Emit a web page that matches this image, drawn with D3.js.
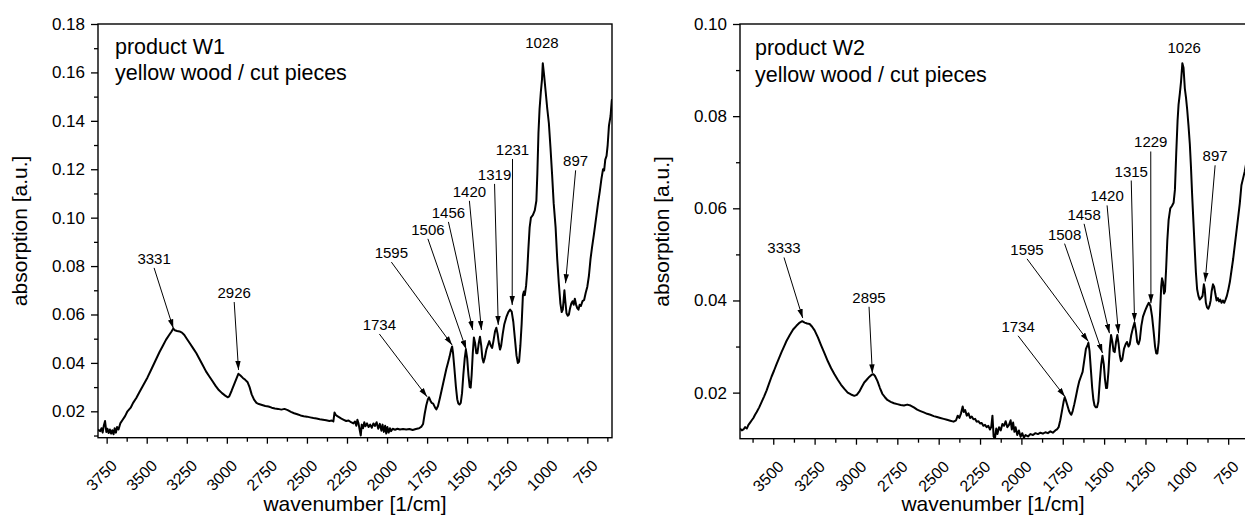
<!DOCTYPE html>
<html>
<head>
<meta charset="utf-8">
<script src="https://cdn.jsdelivr.net/npm/d3@7/dist/d3.min.js"></script>
<style>
  body { margin: 0; background: #fff; }
  svg text { font-family: Arial, 'Liberation Sans', sans-serif; fill: #000; }
</style>
</head>
<body>
<script>
// spectrum W1 : [wavenumber, absorption]
var w1Spectrum = [
  [3804,0.0125],[3796,0.0120],[3790,0.0118],[3782,0.0130],[3775,0.0112],[3768,0.0140],[3760,0.0160],[3752,0.0115],
  [3745,0.0128],[3738,0.0110],[3730,0.0125],[3722,0.0108],[3715,0.0122],[3707,0.0105],[3700,0.0130],[3692,0.0112],
  [3685,0.0135],[3676,0.0125],[3665,0.0150],[3650,0.0165],[3635,0.0180],[3620,0.0200],[3600,0.0215],[3585,0.0235],
  [3565,0.0255],[3545,0.0280],[3520,0.0310],[3495,0.0340],[3470,0.0375],[3445,0.0410],[3420,0.0445],[3400,0.0470],
  [3380,0.0495],[3360,0.0515],[3345,0.0530],[3334,0.0542],[3325,0.0535],[3310,0.0532],[3295,0.0530],[3280,0.0525],
  [3265,0.0515],[3250,0.0500],[3230,0.0480],[3210,0.0460],[3190,0.0440],[3170,0.0415],[3150,0.0390],[3130,0.0365],
  [3110,0.0345],[3090,0.0325],[3070,0.0305],[3050,0.0288],[3030,0.0275],[3010,0.0265],[2995,0.0258],[2985,0.0262],
  [2970,0.0285],[2955,0.0310],[2940,0.0335],[2928,0.0355],[2915,0.0348],[2900,0.0338],[2885,0.0330],[2870,0.0320],
  [2858,0.0300],[2845,0.0270],[2830,0.0248],[2815,0.0235],[2800,0.0230],[2780,0.0226],[2760,0.0222],[2740,0.0220],
  [2720,0.0215],[2700,0.0212],[2680,0.0210],[2660,0.0207],[2640,0.0210],[2620,0.0205],[2600,0.0198],[2580,0.0192],
  [2560,0.0188],[2540,0.0183],[2520,0.0180],[2500,0.0178],[2480,0.0175],[2460,0.0172],[2440,0.0170],[2420,0.0167],
  [2400,0.0165],[2380,0.0163],[2360,0.0160],[2345,0.0162],[2335,0.0158],[2328,0.0195],[2320,0.0185],[2310,0.0180],
  [2300,0.0176],[2285,0.0170],[2270,0.0165],[2255,0.0160],[2240,0.0162],[2225,0.0155],[2210,0.0150],[2200,0.0158],
  [2192,0.0140],[2185,0.0165],[2178,0.0150],[2170,0.0120],[2164,0.0100],[2158,0.0145],[2150,0.0130],[2142,0.0155],
  [2135,0.0138],[2125,0.0150],[2115,0.0135],[2105,0.0145],[2095,0.0132],[2085,0.0150],[2075,0.0140],[2065,0.0155],
  [2055,0.0128],[2045,0.0148],[2035,0.0120],[2028,0.0145],[2020,0.0115],[2012,0.0140],[2005,0.0108],[1998,0.0135],
  [1990,0.0112],[1982,0.0130],[1975,0.0118],[1965,0.0128],[1950,0.0124],[1935,0.0128],[1920,0.0125],[1900,0.0127],
  [1880,0.0125],[1860,0.0127],[1840,0.0123],[1820,0.0127],[1800,0.0130],[1785,0.0137],[1775,0.0148],[1765,0.0190],
  [1755,0.0225],[1745,0.0250],[1738,0.0258],[1730,0.0245],[1722,0.0235],[1712,0.0232],[1700,0.0215],[1692,0.0208],
  [1682,0.0222],[1670,0.0255],[1660,0.0285],[1650,0.0315],[1640,0.0345],[1630,0.0375],[1620,0.0400],[1610,0.0425],
  [1600,0.0455],[1594,0.0468],[1588,0.0440],[1580,0.0380],[1570,0.0300],[1562,0.0250],[1555,0.0232],[1548,0.0228],
  [1540,0.0235],[1532,0.0275],[1524,0.0350],[1515,0.0420],[1508,0.0455],[1500,0.0420],[1492,0.0350],[1484,0.0300],
  [1478,0.0298],[1472,0.0350],[1465,0.0440],[1458,0.0505],[1450,0.0480],[1443,0.0440],[1436,0.0440],[1428,0.0480],
  [1420,0.0508],[1412,0.0470],[1405,0.0420],[1398,0.0402],[1390,0.0420],[1380,0.0455],[1370,0.0475],[1362,0.0490],
  [1352,0.0470],[1344,0.0462],[1336,0.0490],[1326,0.0530],[1318,0.0545],[1310,0.0520],[1302,0.0480],[1295,0.0455],
  [1288,0.0470],[1278,0.0520],[1268,0.0560],[1255,0.0590],[1243,0.0610],[1232,0.0620],[1222,0.0612],[1212,0.0570],
  [1202,0.0500],[1192,0.0430],[1184,0.0400],[1176,0.0405],[1168,0.0470],[1160,0.0560],[1152,0.0680],[1146,0.0695],
  [1140,0.0680],[1132,0.0720],[1125,0.0780],[1118,0.0870],[1110,0.0960],[1102,0.1000],[1090,0.1010],[1078,0.1030],
  [1068,0.1070],[1062,0.1180],[1055,0.1350],[1048,0.1450],[1040,0.1520],[1033,0.1570],[1028,0.1638],[1020,0.1590],
  [1010,0.1520],[1000,0.1450],[990,0.1390],[980,0.1290],[970,0.1180],[960,0.1060],[948,0.0960],[938,0.0830],
  [928,0.0730],[918,0.0645],[910,0.0610],[903,0.0620],[898,0.0660],[893,0.0700],[888,0.0660],[880,0.0605],
  [872,0.0595],[865,0.0600],[858,0.0625],[850,0.0645],[842,0.0655],[835,0.0640],[828,0.0665],[820,0.0640],
  [812,0.0625],[805,0.0620],[798,0.0640],[790,0.0635],[780,0.0655],[770,0.0660],[760,0.0690],[750,0.0715],
  [740,0.0760],[730,0.0830],[720,0.0880],[708,0.0935],[695,0.1000],[683,0.1060],[672,0.1110],[662,0.1160],
  [652,0.1200],[645,0.1195],[638,0.1240],[630,0.1255],[623,0.1300],[615,0.1380],[605,0.1420],[598,0.1480],[596,0.1490]
];

// spectrum W2 : [wavenumber, absorption]
var w2Spectrum = [
  [3701,0.0122],[3690,0.0118],[3680,0.0120],[3670,0.0125],[3660,0.0122],[3650,0.0130],[3640,0.0135],[3630,0.0140],
  [3620,0.0145],[3610,0.0152],[3600,0.0158],[3585,0.0168],[3570,0.0180],[3555,0.0192],[3540,0.0205],[3525,0.0220],
  [3510,0.0235],[3495,0.0248],[3480,0.0262],[3465,0.0275],[3450,0.0288],[3435,0.0300],[3420,0.0312],[3400,0.0325],
  [3380,0.0337],[3360,0.0345],[3340,0.0352],[3325,0.0355],[3310,0.0352],[3295,0.0350],[3280,0.0349],[3265,0.0343],
  [3250,0.0335],[3230,0.0320],[3210,0.0302],[3190,0.0285],[3170,0.0268],[3150,0.0253],[3130,0.0240],[3110,0.0228],
  [3090,0.0217],[3070,0.0208],[3050,0.0200],[3030,0.0196],[3010,0.0193],[2995,0.0195],[2980,0.0202],[2965,0.0212],
  [2950,0.0222],[2935,0.0228],[2920,0.0234],[2905,0.0239],[2895,0.0240],[2885,0.0236],[2870,0.0225],[2855,0.0210],
  [2840,0.0197],[2825,0.0190],[2810,0.0184],[2790,0.0180],[2770,0.0177],[2750,0.0175],[2730,0.0173],[2710,0.0172],
  [2690,0.0174],[2670,0.0172],[2650,0.0168],[2630,0.0163],[2610,0.0160],[2590,0.0157],[2570,0.0154],[2550,0.0152],
  [2530,0.0149],[2510,0.0147],[2490,0.0145],[2470,0.0143],[2450,0.0141],[2430,0.0139],[2410,0.0137],[2395,0.0140],
  [2385,0.0150],[2375,0.0145],[2365,0.0155],[2355,0.0170],[2348,0.0158],[2340,0.0162],[2330,0.0150],[2320,0.0155],
  [2310,0.0145],[2300,0.0148],[2290,0.0142],[2280,0.0143],[2270,0.0137],[2260,0.0138],[2250,0.0133],[2240,0.0134],
  [2230,0.0128],[2220,0.0130],[2210,0.0125],[2200,0.0128],[2190,0.0120],[2182,0.0126],[2175,0.0150],[2168,0.0105],
  [2160,0.0100],[2152,0.0122],[2145,0.0110],[2135,0.0125],[2125,0.0118],[2115,0.0132],[2105,0.0128],[2095,0.0138],
  [2085,0.0125],[2075,0.0130],[2065,0.0140],[2058,0.0120],[2050,0.0135],[2042,0.0115],[2035,0.0125],[2025,0.0108],
  [2015,0.0118],[2005,0.0104],[1995,0.0112],[1985,0.0102],[1975,0.0108],[1960,0.0105],[1945,0.0110],[1930,0.0108],
  [1915,0.0112],[1900,0.0110],[1885,0.0113],[1870,0.0111],[1855,0.0114],[1840,0.0112],[1825,0.0116],[1810,0.0113],
  [1795,0.0118],[1785,0.0120],[1775,0.0125],[1765,0.0140],[1755,0.0160],[1745,0.0180],[1738,0.0190],[1730,0.0182],
  [1720,0.0170],[1712,0.0160],[1705,0.0155],[1698,0.0152],[1690,0.0160],[1680,0.0175],[1670,0.0192],[1660,0.0210],
  [1650,0.0225],[1640,0.0235],[1630,0.0245],[1620,0.0270],[1610,0.0295],[1600,0.0303],[1595,0.0308],[1588,0.0290],
  [1580,0.0250],[1572,0.0210],[1565,0.0185],[1558,0.0172],[1550,0.0168],[1543,0.0168],[1535,0.0180],[1527,0.0220],
  [1518,0.0260],[1510,0.0280],[1502,0.0262],[1495,0.0230],[1488,0.0210],[1482,0.0210],[1474,0.0245],[1466,0.0295],
  [1458,0.0325],[1450,0.0310],[1443,0.0290],[1436,0.0288],[1428,0.0310],[1420,0.0325],[1412,0.0305],[1405,0.0280],
  [1398,0.0268],[1390,0.0272],[1380,0.0295],[1370,0.0305],[1362,0.0310],[1352,0.0300],[1345,0.0305],[1336,0.0325],
  [1326,0.0340],[1316,0.0352],[1308,0.0335],[1300,0.0310],[1292,0.0305],[1284,0.0315],[1275,0.0345],[1265,0.0365],
  [1252,0.0378],[1240,0.0388],[1230,0.0395],[1220,0.0388],[1210,0.0365],[1200,0.0330],[1192,0.0300],[1185,0.0285],
  [1178,0.0285],[1170,0.0310],[1162,0.0370],[1155,0.0430],[1150,0.0448],[1144,0.0440],[1138,0.0415],[1132,0.0420],
  [1125,0.0470],[1118,0.0530],[1110,0.0575],[1100,0.0600],[1090,0.0605],[1080,0.0612],[1072,0.0640],[1064,0.0720],
  [1056,0.0790],[1050,0.0825],[1042,0.0850],[1035,0.0875],[1027,0.0915],[1020,0.0905],[1012,0.0860],[1005,0.0840],
  [998,0.0815],[990,0.0780],[982,0.0740],[975,0.0690],[968,0.0630],[960,0.0570],[952,0.0510],[945,0.0460],
  [938,0.0425],[930,0.0410],[922,0.0402],[914,0.0405],[905,0.0410],[897,0.0435],[892,0.0425],[885,0.0395],
  [878,0.0385],[870,0.0382],[862,0.0390],[856,0.0400],[850,0.0420],[842,0.0435],[835,0.0430],[828,0.0415],
  [820,0.0400],[812,0.0405],[805,0.0398],[798,0.0402],[790,0.0395],[782,0.0400],[774,0.0395],[766,0.0402],
  [758,0.0410],[750,0.0422],[740,0.0440],[730,0.0465],[720,0.0490],[710,0.0520],[700,0.0550],[690,0.0580],
  [680,0.0610],[670,0.0650],[660,0.0665],[650,0.0680],[640,0.0700],[630,0.0720],[620,0.0740],[610,0.0760],[600,0.0780]
];

// peak labels: text, where the label sits and where the arrow points (data units)
var w1Peaks = [
  { text: '3331', at: [3454, 0.0809], tip: [3334, 0.0543] },
  { text: '2926', at: [2954, 0.0668], tip: [2927, 0.0371] },
  { text: '1734', at: [2048, 0.0536], tip: [1750, 0.0260] },
  { text: '1595', at: [1973, 0.0833], tip: [1594, 0.0474] },
  { text: '1506', at: [1745, 0.0929], tip: [1506, 0.0456] },
  { text: '1456', at: [1617, 0.0999], tip: [1465, 0.0536] },
  { text: '1420', at: [1486, 0.1086], tip: [1411, 0.0536] },
  { text: '1319', at: [1329, 0.1156], tip: [1306, 0.0557] },
  { text: '1231', at: [1217, 0.1259], tip: [1219, 0.0639] },
  { text: '1028', at: [1033, 0.1701], tip: null },
  { text: '897',  at: [823, 0.1212],  tip: [886, 0.0729] }
];
var w2Peaks = [
  { text: '3333', at: [3435, 0.0502], tip: [3322, 0.0362] },
  { text: '2895', at: [2921, 0.0395], tip: [2901, 0.0242] },
  { text: '1734', at: [2020, 0.0332], tip: [1736, 0.0191] },
  { text: '1595', at: [1966, 0.0499], tip: [1595, 0.0311] },
  { text: '1508', at: [1739, 0.0532], tip: [1510, 0.0286] },
  { text: '1458', at: [1621, 0.0575], tip: [1468, 0.0329] },
  { text: '1420', at: [1482, 0.0615], tip: [1413, 0.0329] },
  { text: '1315', at: [1336, 0.0669], tip: [1316, 0.0354] },
  { text: '1229', at: [1218, 0.0732], tip: [1217, 0.0394] },
  { text: '1026', at: [1016, 0.0936], tip: null },
  { text: '897',  at: [829, 0.0702],  tip: [889, 0.0441] }
];

// tick values
var w1XTicks = [3750, 3500, 3250, 3000, 2750, 2500, 2250, 2000, 1750, 1500, 1250, 1000, 750];
var w1YTicks = [0.02, 0.04, 0.06, 0.08, 0.10, 0.12, 0.14, 0.16, 0.18];
var w2XTicks = [3500, 3250, 3000, 2750, 2500, 2250, 2000, 1750, 1500, 1250, 1000, 750];
var w2YTicks = [0.02, 0.04, 0.06, 0.08, 0.10];

var width = 1245, height = 518;
var svg = d3.select('body').append('svg').attr('width', width).attr('height', height);

svg.append('defs').append('marker')
    .attr('id', 'arrow')
    .attr('viewBox', '0 0 10 6')
    .attr('refX', 10).attr('refY', 3)
    .attr('markerWidth', 9).attr('markerHeight', 6)
    .attr('markerUnits', 'userSpaceOnUse')
    .attr('orient', 'auto')
  .append('path').attr('d', 'M0,0 L10,3 L0,6 Z').attr('fill', '#000');

function drawPanel(p) {
    var x = d3.scaleLinear().domain(p.xDomain).range([p.left, p.right]);
    var y = d3.scaleLinear().domain(p.yDomain).range([p.bottom, p.top]);
    var g = svg.append('g');

    g.append('clipPath').attr('id', 'clip-' + p.id)
      .append('rect').attr('x', p.left).attr('y', p.top)
      .attr('width', p.right - p.left).attr('height', p.bottom - p.top);

    // minor ticks (half steps)
    var xMinor = p.xTicks.map(function (d) { return d - 125; }).concat([p.xTicks[0] + 125])
        .filter(function (d) { return d < p.xDomain[0] && d > p.xDomain[1]; });
    var yMinor = p.yTicks.map(function (d) { return d - 0.01; })
        .filter(function (d) { return d > p.yDomain[0]; });

    g.append('g').attr('transform', 'translate(0,' + p.bottom + ')')
      .call(d3.axisBottom(x).tickValues(xMinor).tickSize(4).tickSizeOuter(0).tickFormat(''))
      .call(function (a) { a.select('.domain').remove(); a.selectAll('line').attr('stroke-width', 1.3); });
    var xa = g.append('g').attr('transform', 'translate(0,' + p.bottom + ')')
      .call(d3.axisBottom(x).tickValues(p.xTicks).tickSize(6).tickSizeOuter(0).tickFormat(d3.format('d')));
    xa.select('.domain').remove();
    xa.selectAll('line').attr('stroke-width', 1.3);
    xa.selectAll('text')
      .attr('y', null).attr('dy', null)
      .attr('font-size', 16)
      .attr('text-anchor', 'end')
      .attr('transform', 'translate(11,29) rotate(-45)');

    g.append('g').attr('transform', 'translate(' + p.left + ',0)')
      .call(d3.axisLeft(y).tickValues(yMinor).tickSize(4).tickSizeOuter(0).tickFormat(''))
      .call(function (a) { a.select('.domain').remove(); a.selectAll('line').attr('stroke-width', 1.3); });
    var ya = g.append('g').attr('transform', 'translate(' + p.left + ',0)')
      .call(d3.axisLeft(y).tickValues(p.yTicks).tickSize(7).tickPadding(6).tickSizeOuter(0).tickFormat(d3.format('.2f')));
    ya.select('.domain').remove();
    ya.selectAll('line').attr('stroke-width', 1.3);
    ya.selectAll('text').attr('font-size', 17);

    // frame
    g.append('rect').attr('x', p.left).attr('y', p.top)
      .attr('width', p.right - p.left).attr('height', p.bottom - p.top)
      .attr('fill', 'none').attr('stroke', '#000').attr('stroke-width', 1.4);

    var line = d3.line().x(function (d) { return x(d[0]); }).y(function (d) { return y(d[1]); });
    g.append('path').datum(p.spectrum)
      .attr('clip-path', 'url(#clip-' + p.id + ')')
      .attr('d', line).attr('fill', 'none').attr('stroke', '#000')
      .attr('stroke-width', 2).attr('stroke-linejoin', 'round');

    // peak annotations
    p.peaks.forEach(function (pk) {
        var lx = x(pk.at[0]), ly = y(pk.at[1]);
        g.append('text').attr('x', lx).attr('y', ly)
          .attr('text-anchor', 'middle').attr('font-size', 15).text(pk.text);
        if (pk.tip) {
            g.append('line')
              .attr('x1', lx).attr('y1', ly + 4)
              .attr('x2', x(pk.tip[0])).attr('y2', y(pk.tip[1]))
              .attr('stroke', '#000').attr('stroke-width', 1)
              .attr('marker-end', 'url(#arrow)');
        }
    });

    g.append('text').attr('x', p.left + p.titleDx).attr('y', p.top + p.titleDy)
      .attr('font-size', 21.5).text(p.title);
    g.append('text').attr('x', p.left + p.titleDx).attr('y', p.top + p.titleDy + 26.5)
      .attr('font-size', 21.5).text('yellow wood / cut pieces');

    g.append('text').attr('x', p.xTitleX).attr('y', 511)
      .attr('text-anchor', 'middle').attr('font-size', 21).text('wavenumber [1/cm]');
    g.append('text')
      .attr('transform', 'translate(' + p.yTitleX + ',' + ((p.top + p.bottom) / 2) + ') rotate(-90)')
      .attr('text-anchor', 'middle').attr('font-size', 21).text('absorption [a.u.]');
}

drawPanel({
    id: 'w1', left: 98, right: 612, top: 24, bottom: 437.7,
    xDomain: [3804, 596], yDomain: [0.0091, 0.18],
    xTicks: w1XTicks, yTicks: w1YTicks,
    spectrum: w1Spectrum, peaks: w1Peaks, title: 'product W1',
    titleDx: 17, titleDy: 29.5,
    xTitleX: 355, yTitleX: 27
});

drawPanel({
    id: 'w2', left: 740, right: 1253, top: 24, bottom: 438.7,
    xDomain: [3701, 600], yDomain: [0.01, 0.10],
    xTicks: w2XTicks, yTicks: w2YTicks,
    spectrum: w2Spectrum, peaks: w2Peaks, title: 'product W2',
    titleDx: 15, titleDy: 31,
    xTitleX: 993, yTitleX: 669
});
</script>
</body>
</html>
